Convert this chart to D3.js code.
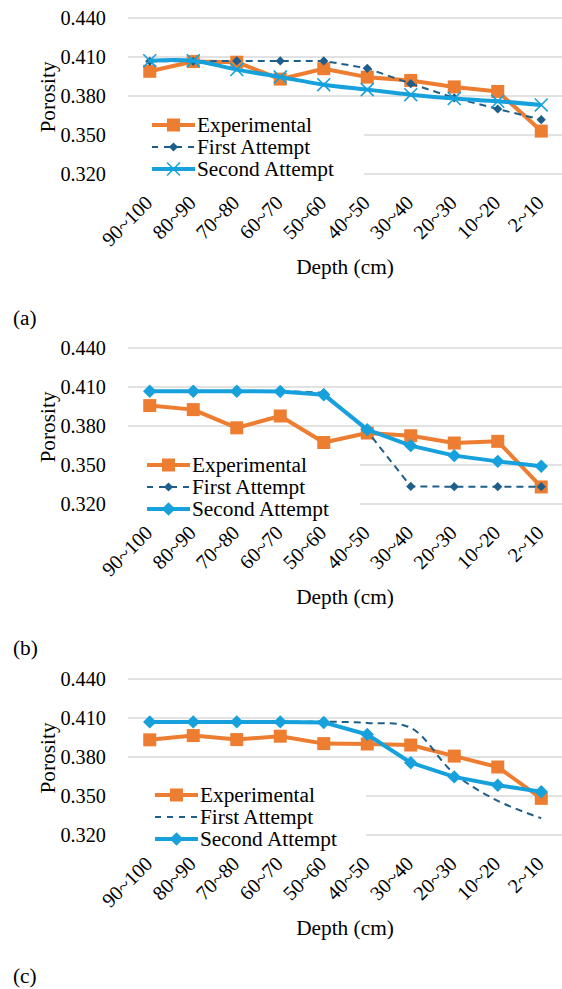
<!DOCTYPE html>
<html>
<head>
<meta charset="utf-8">
<script src="https://cdnjs.cloudflare.com/ajax/libs/d3/7.8.5/d3.min.js"></script>
<style>
  body { margin: 0; background: #fff; }
</style>
</head>
<body>
<script>
// categories and ticks
var depthLabels = ["90~100", "80~90", "70~80", "60~70", "50~60", "40~50", "30~40", "20~30", "10~20", "2~10"];
var yTicks = [0.320, 0.350, 0.380, 0.410, 0.440];
var seriesNames = ["Experimental", "First Attempt", "Second Attempt"];
var panelLabels = ["(a)", "(b)", "(c)"];

// panel (a)
var expA    = [0.399, 0.4065, 0.406, 0.393, 0.401, 0.3945, 0.392, 0.387, 0.3835, 0.353];
var firstA  = [0.4067, 0.4067, 0.407, 0.407, 0.407, 0.4013, 0.3895, 0.3785, 0.370, 0.3618];
var secondA = [0.4072, 0.4072, 0.4003, 0.3946, 0.3887, 0.3849, 0.381, 0.378, 0.3759, 0.3731];

// panel (b)
var expB    = [0.3957, 0.3926, 0.3786, 0.3877, 0.3673, 0.3746, 0.3725, 0.3669, 0.3682, 0.3331];
var firstB  = [0.407, 0.407, 0.407, 0.407, 0.4055, 0.376, 0.3335, 0.3333, 0.3333, 0.3333];
var secondB = [0.4068, 0.4068, 0.4068, 0.4066, 0.4041, 0.3772, 0.3649, 0.3572, 0.3528, 0.3490];

// panel (c)
var expC    = [0.3932, 0.3965, 0.3934, 0.396, 0.3903, 0.3900, 0.3892, 0.3807, 0.3723, 0.3482];
var firstC  = [0.407, 0.407, 0.407, 0.407, 0.4072, 0.4062, 0.4024, 0.3672, 0.3463, 0.3329];
var secondC = [0.407, 0.407, 0.407, 0.407, 0.4066, 0.3973, 0.3756, 0.3647, 0.3583, 0.3532];

var orange = "#ED7D31", darkBlue = "#1D5F8A", lightBlue = "#16A1DC";
var serif = "'Liberation Serif', 'DejaVu Serif', serif";

var W = 562, H = 989;
var plotLeft = 128, plotRight = 563, plotH = 156;

var svg = d3.select("body").append("svg")
    .attr("width", W)
    .attr("height", H)
    .attr("font-family", serif);

// fit the font size so "Experimental" is about as wide as in the picture (115px)
var probe = svg.append("text").attr("font-size", "20px").text("Experimental");
var probeW = probe.node().getComputedTextLength() || 103;
probe.remove();
var fs = Math.max(16, Math.min(22, 20 * 115 / probeW));
var fsTick = fs * 0.95;

var xScale = d3.scaleBand().domain(depthLabels).range([plotLeft, plotRight]).padding(0);
function xc(d) { return xScale(d) + xScale.bandwidth() / 2; }

var panels = [
    {top: 18,  exp: expA, first: firstA, second: secondA, firstMarker: "diamondSmall", secondMarker: "x",
     firstCurve: d3.curveLinear, secondCurve: d3.curveCatmullRom.alpha(0.5), legX: 152, legY: 125, boxR: 364, labY: 325},
    {top: 348, exp: expB, first: firstB, second: secondB, firstMarker: "diamondSmall", secondMarker: "diamond",
     firstCurve: d3.curveLinear, secondCurve: d3.curveLinear, legX: 147, legY: 465, boxR: 360, labY: 655},
    {top: 679, exp: expC, first: firstC, second: secondC, firstMarker: null, secondMarker: "diamond",
     firstCurve: d3.curveCatmullRom.alpha(0.5), secondCurve: d3.curveLinear, legX: 155, legY: 795, boxR: 366, labY: 983}
];

// draws one marker of a given kind into selection g at (x, y)
function drawMarker(g, kind, x, y) {
    if (kind === "square") {
        g.append("path")
            .attr("d", d3.symbol(d3.symbolSquare, 13 * 13)())
            .attr("transform", "translate(" + x + "," + y + ")")
            .attr("fill", orange);
    } else if (kind === "diamondSmall") {
        g.append("path")
            .attr("d", d3.symbol(d3.symbolSquare, 6.5 * 6.5)())
            .attr("transform", "translate(" + x + "," + y + ") rotate(45)")
            .attr("fill", darkBlue);
    } else if (kind === "diamond") {
        g.append("path")
            .attr("d", d3.symbol(d3.symbolSquare, 9.5 * 9.5)())
            .attr("transform", "translate(" + x + "," + y + ") rotate(45)")
            .attr("fill", lightBlue);
    } else if (kind === "x") {
        var sym = d3.symbolX || d3.symbolTimes;
        g.append("path")
            .attr("d", d3.symbol(sym, 110)())
            .attr("transform", "translate(" + x + "," + y + ")")
            .attr("fill", "none")
            .attr("stroke", lightBlue)
            .attr("stroke-width", 1.6);
    }
}

panels.forEach(function(p, pi) {
    var yScale = d3.scaleLinear().domain([0.320, 0.440]).range([p.top + plotH, p.top]);
    var g = svg.append("g");

    // gridlines
    g.append("g")
        .selectAll("line")
        .data(yTicks)
        .enter().append("line")
        .attr("x1", plotLeft).attr("x2", plotRight)
        .attr("y1", function(d) { return yScale(d); })
        .attr("y2", function(d) { return yScale(d); })
        .attr("stroke", "#D9D9D9")
        .attr("stroke-width", 1.3);

    // legend (white box hides the gridlines behind it)
    var rowH = 22;
    var leg = g.append("g");
    leg.append("rect")
        .attr("x", plotLeft)
        .attr("y", p.legY - 13)
        .attr("width", p.boxR - plotLeft)
        .attr("height", rowH * 2 + 24)
        .attr("fill", "#fff");
    var styles = [
        {color: orange, width: 4, dash: null, marker: "square"},
        {color: darkBlue, width: 2, dash: "6,6", marker: p.firstMarker},
        {color: lightBlue, width: 4, dash: null, marker: p.secondMarker}
    ];
    seriesNames.forEach(function(name, i) {
        var y = p.legY + i * rowH;
        var s = styles[i];
        var ln = leg.append("line")
            .attr("x1", p.legX).attr("x2", p.legX + 43)
            .attr("y1", y).attr("y2", y)
            .attr("stroke", s.color)
            .attr("stroke-width", s.width);
        if (s.dash) ln.attr("stroke-dasharray", s.dash);
        if (s.marker) drawMarker(leg, s.marker, p.legX + 21.5, y);
        leg.append("text")
            .attr("x", p.legX + 45)
            .attr("y", y)
            .attr("dy", "0.35em")
            .attr("font-size", fs + "px")
            .text(name);
    });

    // y axis labels
    var yAxis = d3.axisLeft(yScale)
        .tickValues(yTicks)
        .tickFormat(d3.format(".3f"))
        .tickSize(0)
        .tickPadding(0);
    var ya = g.append("g")
        .attr("transform", "translate(106,0)")
        .call(yAxis)
        .attr("font-family", serif);
    ya.select(".domain").remove();
    ya.selectAll("text")
        .attr("font-size", fsTick + "px");

    // x axis labels
    var xAxis = d3.axisBottom(xScale).tickSize(0);
    var xa = g.append("g")
        .attr("transform", "translate(0," + (p.top + plotH) + ")")
        .call(xAxis)
        .attr("font-family", serif);
    xa.select(".domain").remove();
    xa.selectAll("text")
        .attr("y", null).attr("dy", null)
        .attr("transform", "translate(4,30) rotate(-45)")
        .style("text-anchor", "end")
        .attr("font-size", fsTick + "px");

    // axis titles
    g.append("text")
        .attr("transform", "translate(55," + (p.top + 79) + ") rotate(-90)")
        .attr("text-anchor", "middle")
        .attr("font-size", fs + "px")
        .text("Porosity");
    g.append("text")
        .attr("x", 345)
        .attr("y", p.top + 256)
        .attr("text-anchor", "middle")
        .attr("font-size", fs + "px")
        .text("Depth (cm)");

    // panel label
    g.append("text")
        .attr("x", 13)
        .attr("y", p.labY)
        .attr("font-size", fs + "px")
        .text(panelLabels[pi]);

    function lineGen(curve) {
        return d3.line()
            .x(function(d, i) { return xc(depthLabels[i]); })
            .y(function(d) { return yScale(d); })
            .curve(curve);
    }

    // Experimental
    g.append("path")
        .attr("d", lineGen(d3.curveLinear)(p.exp))
        .attr("fill", "none")
        .attr("stroke", orange)
        .attr("stroke-width", 4)
        .attr("stroke-linejoin", "round");
    p.exp.forEach(function(v, i) { drawMarker(g, "square", xc(depthLabels[i]), yScale(v)); });

    // First Attempt
    g.append("path")
        .attr("d", lineGen(p.firstCurve)(p.first))
        .attr("fill", "none")
        .attr("stroke", darkBlue)
        .attr("stroke-width", 2)
        .attr("stroke-dasharray", "7,5");
    if (p.firstMarker) {
        p.first.forEach(function(v, i) { drawMarker(g, p.firstMarker, xc(depthLabels[i]), yScale(v)); });
    }

    // Second Attempt
    g.append("path")
        .attr("d", lineGen(p.secondCurve)(p.second))
        .attr("fill", "none")
        .attr("stroke", lightBlue)
        .attr("stroke-width", 4)
        .attr("stroke-linejoin", "round");
    p.second.forEach(function(v, i) { drawMarker(g, p.secondMarker, xc(depthLabels[i]), yScale(v)); });
});
</script>
</body>
</html>
